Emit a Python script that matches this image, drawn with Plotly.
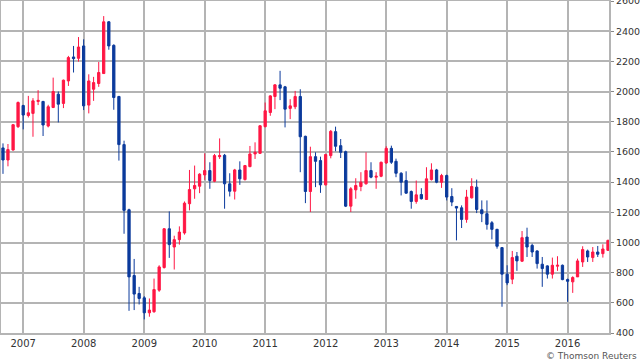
import pandas as pd
import plotly.graph_objects as go

months = pd.date_range("2006-09-01", periods=121, freq="MS")

open_ = [1627, 1547, 1613, 1768,
         1908, 1842, 1856, 1935, 1935, 1772, 1895, 1983, 1922, 2071, 2230, 2221,
         2303, 1911, 2016, 2054, 2120, 2463, 2307, 1968, 1649, 1217, 781, 662,
         633, 534, 541, 684, 834, 1091, 970, 1019, 1063, 1257, 1356, 1373,
         1448, 1477, 1406, 1569, 1578, 1389, 1340, 1481, 1417, 1503, 1587, 1591,
         1768, 1862, 1968, 2045, 2032, 1889, 1900, 1968, 1704, 1338, 1569, 1543,
         1382, 1576, 1735, 1642, 1602, 1241, 1349, 1371, 1389, 1477, 1433, 1439,
         1527, 1624, 1538, 1459, 1411, 1338, 1272, 1318, 1285, 1417, 1481, 1400,
         1444, 1305, 1239, 1230, 1153, 1296, 1367, 1217, 1191, 1131, 1087, 966,
         790, 757, 909, 876, 1036, 981, 944, 856, 845, 790, 843, 849,
         754, 739, 772, 871, 944, 900, 937, 926, 948]

high = [1657, 1653, 1785, 1935,
        1913, 1972, 1957, 2010, 1939, 1913, 2093, 2001, 2080, 2237, 2303, 2362,
        2347, 2115, 2098, 2197, 2501, 2468, 2314, 1972, 1675, 1224, 891, 706,
        644, 629, 761, 849, 1096, 1206, 1045, 1107, 1272, 1481, 1510, 1459,
        1591, 1532, 1587, 1690, 1587, 1459, 1488, 1538, 1514, 1640, 1664, 1779,
        1928, 1977, 2049, 2138, 2038, 1950, 2005, 2016, 1708, 1635, 1598, 1569,
        1587, 1746, 1768, 1686, 1609, 1367, 1426, 1466, 1598, 1532, 1466, 1536,
        1638, 1642, 1556, 1466, 1472, 1345, 1411, 1360, 1499, 1525, 1488, 1455,
        1450, 1360, 1241, 1246, 1349, 1426, 1417, 1279, 1279, 1142, 1091, 970,
        849, 944, 937, 1076, 1098, 992, 948, 904, 849, 900, 909, 854,
        761, 776, 893, 975, 953, 970, 977, 988, 1019]

low = [1455, 1505, 1609, 1759,
       1750, 1829, 1701, 1911, 1706, 1763, 1891, 1796, 1891, 2038, 2127, 2199,
       1878, 1856, 1939, 2032, 2120, 2278, 1880, 1543, 1058, 547, 552, 589,
       490, 508, 534, 673, 827, 898, 821, 986, 1052, 1213, 1290, 1327,
       1415, 1356, 1400, 1554, 1224, 1305, 1285, 1382, 1411, 1499, 1554, 1587,
       1763, 1840, 1884, 1944, 1763, 1818, 1884, 1466, 1261, 1202, 1367, 1329,
       1378, 1558, 1605, 1560, 1235, 1202, 1290, 1340, 1384, 1426, 1356, 1433,
       1521, 1521, 1433, 1312, 1323, 1224, 1257, 1285, 1283, 1411, 1393, 1362,
       1279, 1241, 1014, 1096, 1131, 1292, 1195, 1135, 1085, 1021, 959, 574,
       717, 724, 812, 871, 904, 904, 827, 706, 761, 761, 812, 750,
       607, 666, 772, 838, 871, 871, 904, 900, 944]

close = [1547, 1616, 1781, 1928,
         1845, 1860, 1939, 1942, 1779, 1900, 2001, 1917, 2076, 2226, 2219, 2296,
         1906, 2071, 2060, 2127, 2463, 2303, 1961, 1649, 1213, 772, 658, 629,
         534, 552, 688, 838, 1091, 986, 1019, 1069, 1261, 1351, 1378, 1453,
         1477, 1411, 1576, 1576, 1389, 1340, 1481, 1422, 1510, 1587, 1598, 1774,
         1873, 1972, 2045, 2023, 1884, 1906, 1968, 1701, 1338, 1569, 1538, 1382,
         1583, 1737, 1638, 1598, 1241, 1356, 1378, 1400, 1477, 1433, 1439, 1532,
         1624, 1532, 1459, 1400, 1327, 1272, 1316, 1290, 1422, 1481, 1400, 1444,
         1301, 1268, 1228, 1153, 1301, 1371, 1219, 1191, 1120, 1087, 975, 790,
         732, 900, 878, 1032, 970, 937, 860, 827, 790, 849, 849, 754,
         743, 768, 878, 953, 904, 937, 922, 957, 1014]

year_ticks = ["2007-01-01", "2008-01-01", "2009-01-01", "2010-01-01", "2011-01-01",
              "2012-01-01", "2013-01-01", "2014-01-01", "2015-01-01", "2016-01-01"]
year_labels = ["2007", "2008", "2009", "2010", "2011", "2012", "2013", "2014", "2015", "2016"]
y_ticks = list(range(400, 2601, 200))

RED = "#FF1744"
BLUE = "#0B3A9C"
GRID = "#b4b4b4"

fig = go.Figure(go.Candlestick(
    x=months, open=open_, high=high, low=low, close=close,
    increasing=dict(line=dict(color=RED, width=1), fillcolor=RED),
    decreasing=dict(line=dict(color=BLUE, width=1), fillcolor=BLUE),
    showlegend=False, hoverinfo="skip",
))

fig.update_layout(
    width=640, height=361,
    margin=dict(l=1, r=31, t=1, b=28, autoexpand=False),
    paper_bgcolor="white", plot_bgcolor="white",
    font=dict(family="DejaVu Sans", size=10, color="#333333"),
    xaxis=dict(
        type="date", range=["2006-08-20", "2016-09-07"], automargin=False,
        rangeslider=dict(visible=False),
        tickmode="array", tickvals=year_ticks, ticktext=year_labels,
        showgrid=True, gridcolor=GRID, gridwidth=2,
        showline=True, linecolor=GRID, linewidth=2, mirror=True,
        ticks="", tickfont=dict(size=10, color="#333333"),
    ),
    yaxis=dict(
        side="right", range=[400, 2601], automargin=False,
        tickmode="array", tickvals=y_ticks,
        showgrid=True, gridcolor=GRID, gridwidth=2,
        showline=True, linecolor=GRID, linewidth=2, mirror=True,
        ticks="outside", ticklen=3, tickcolor="#888888",
        tickfont=dict(size=9.5, color="#333333"),
        ticklabeloverflow="allow",
        zeroline=False,
    ),
    annotations=[dict(
        text="© Thomson Reuters", xref="paper", yref="paper",
        x=1.0, y=0, xanchor="right", yanchor="top", yshift=-16, xshift=30,
        showarrow=False, font=dict(size=9, color="#555555"),
    )],
)

fig.write_html("out.html", config={"displayModeBar": False},
               post_script="document.body.style.margin='0px';document.body.style.padding='0px';")
